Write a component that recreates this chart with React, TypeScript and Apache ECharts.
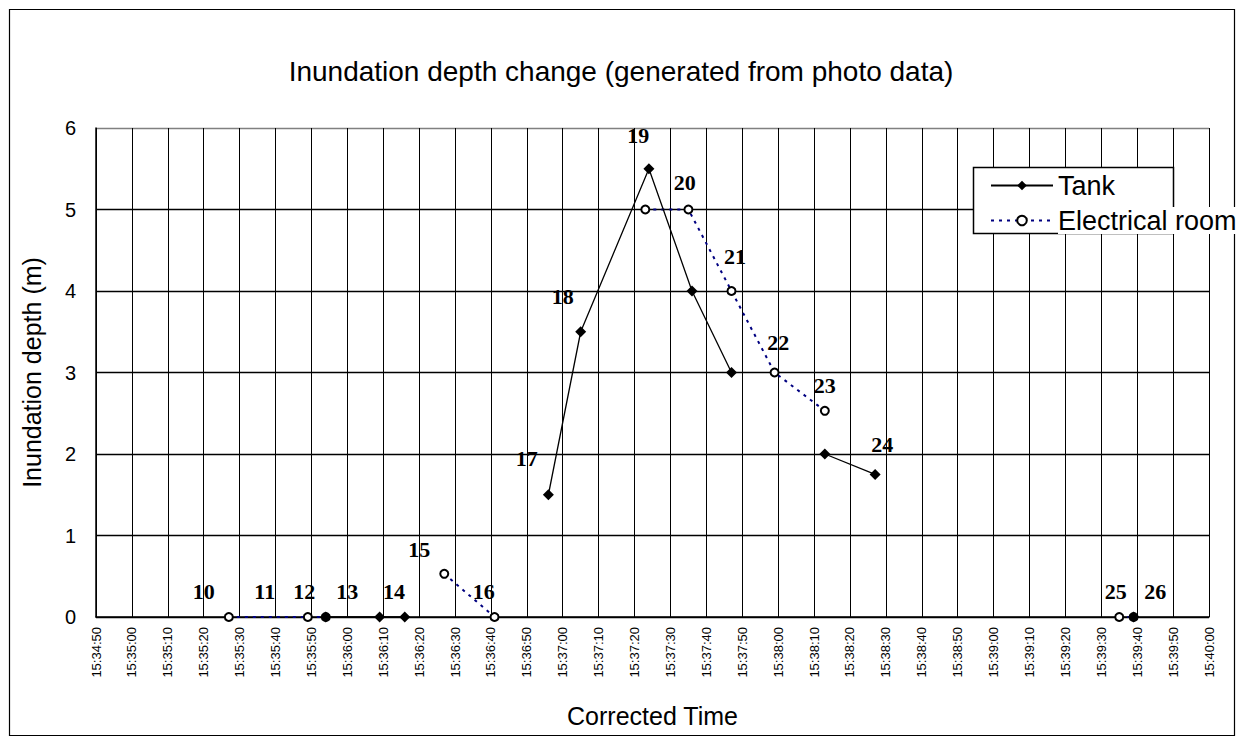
import React, { useEffect, useRef } from "react";
import * as echarts from "echarts";

const AXIS_START = "15:34:50";
const AXIS_END = "15:40:00";

const tankTimes = ["15:35:54", "15:36:09", "15:36:16", "15:36:56", "15:37:05", "15:37:24", "15:37:36", "15:37:47", "15:38:13", "15:38:27", "15:39:39"];
const tankDepths = [0, 0, 0, 1.5, 3.5, 5.5, 4, 3, 2, 1.75, 0];
const tankSegments = [1, 1, 1, 2, 2, 2, 2, 2, 3, 3, 4];

const elecTimes = ["15:35:27", "15:35:49", "15:35:54", "15:36:27", "15:36:41", "15:37:23", "15:37:35", "15:37:47", "15:37:59", "15:38:13", "15:39:35", "15:39:39"];
const elecDepths = [0, 0, 0, 0.53, 0, 5, 5, 4, 3, 2.53, 0, 0];
const elecSegments = [1, 1, 1, 2, 2, 3, 3, 3, 3, 3, 4, 4];

const photoLabels = ["10", "11", "12", "13", "14", "15", "16", "17", "18", "19", "20", "21", "22", "23", "24", "25", "26"];
const photoLabelTimes = ["15:35:20", "15:35:37", "15:35:48", "15:36:00", "15:36:13", "15:36:20", "15:36:38", "15:36:50", "15:37:00", "15:37:21", "15:37:34", "15:37:48", "15:38:00", "15:38:13", "15:38:29", "15:39:34", "15:39:45"];
const photoLabelDepths = [0.31, 0.31, 0.31, 0.31, 0.31, 0.83, 0.31, 1.95, 3.93, 5.91, 5.33, 4.42, 3.37, 2.84, 2.12, 0.31, 0.31];

const yTicks = [0, 1, 2, 3, 4, 5, 6];

function toSec(s: string): number {
  const [h, m, sec] = s.split(":").map(Number);
  return h * 3600 + m * 60 + sec;
}
function fmt(v: number): string {
  const h = Math.floor(v / 3600);
  const m = Math.floor((v % 3600) / 60);
  const s = Math.round(v % 60);
  const p = (n: number) => String(n).padStart(2, "0");
  return `${h}:${p(m)}:${p(s)}`;
}

function segmentSeries(name: string, times: string[], depths: number[], segs: number[], base: any) {
  const ids = Array.from(new Set(segs));
  return ids.map((id) => ({
    ...base,
    name,
    type: "line",
    data: times
      .map((t, i) => ({ t, i }))
      .filter(({ i }) => segs[i] === id)
      .map(({ t, i }) => [toSec(t), depths[i]]),
  }));
}

export default function App() {
  const ref = useRef<HTMLDivElement>(null);
  useEffect(() => {
    document.body.style.margin = "0";
    const chart = echarts.init(ref.current!, null, { renderer: "svg" });
    const sans = "'Liberation Sans', Arial, sans-serif";
    const serif = "'Liberation Serif', 'DejaVu Serif', serif";

    const tankBase = {
      symbol: "diamond",
      symbolSize: 11,
      z: 5,
      itemStyle: { color: "#000" },
      lineStyle: { color: "#000", width: 1.3, type: "solid" },
    };
    const elecBase = {
      symbol: "emptyCircle",
      symbolSize: 8,
      z: 4,
      itemStyle: { color: "#000", borderColor: "#000", borderWidth: 1.3 },
      lineStyle: { color: "#000080", width: 2, type: [3, 5] },
    };

    const option: any = {
      animation: false,
      backgroundColor: "#fff",
      title: {
        text: "Inundation depth change (generated from photo data)",
        left: 616,
        textAlign: "center",
        top: 52,
        textStyle: { fontFamily: sans, fontSize: 28, fontWeight: "normal", color: "#000" },
      },
      grid: { left: 96, top: 128, width: 1113, height: 489, containLabel: false },
      xAxis: {
        type: "value",
        min: toSec(AXIS_START),
        max: toSec(AXIS_END),
        interval: 10,
        name: "Corrected Time",
        nameLocation: "middle",
        nameGap: 86,
        nameTextStyle: { fontFamily: sans, fontSize: 25, color: "#000" },
        axisLine: { lineStyle: { color: "#000", width: 1.5 } },
        axisTick: { show: false },
        axisLabel: {
          rotate: 90,
          formatter: (v: number) => fmt(v),
          fontFamily: sans,
          fontSize: 13,
          color: "#000",
          margin: 10,
        },
        splitLine: { show: true, lineStyle: { color: "#000", width: 1 } },
      },
      yAxis: {
        type: "value",
        min: yTicks[0],
        max: yTicks[yTicks.length - 1],
        interval: 1,
        name: "Inundation depth (m)",
        nameLocation: "middle",
        nameGap: 52,
        nameTextStyle: { fontFamily: sans, fontSize: 25, color: "#000" },
        axisLine: { show: true, lineStyle: { color: "#000", width: 1.5 } },
        axisTick: { show: false },
        axisLabel: { fontFamily: sans, fontSize: 20, color: "#000", margin: 20 },
        splitLine: {
          show: true,
          lineStyle: { color: ["#000", "#000", "#000", "#000", "#000", "#000", "#808080"], width: 1.3 },
        },
      },
      legend: {
        data: [{ name: "Tank" }, { name: "Electrical room" }],
        orient: "vertical",
        left: 990,
        top: 172,
        itemWidth: 62,
        itemHeight: 12,
        itemGap: 8,
        padding: 0,
        z: 6,
        selectedMode: false,
        textStyle: {
          fontFamily: sans,
          fontSize: 27,
          color: "#000",
          backgroundColor: "#fff",
          padding: [0, 0, 0, 0],
        },
      },
      graphic: [
        {
          type: "rect",
          z: 3,
          shape: { x: 973.5, y: 167.5, width: 200, height: 66 },
          style: { fill: "#fff", stroke: "#000", lineWidth: 1.5 },
        },
        {
          type: "rect",
          z: 0,
          silent: true,
          shape: { x: 9.5, y: 9.5, width: 1225, height: 726 },
          style: { fill: "none", stroke: "#000", lineWidth: 1.2 },
        },
      ],
      series: [
        ...segmentSeries("Tank", tankTimes, tankDepths, tankSegments, tankBase),
        ...segmentSeries("Electrical room", elecTimes, elecDepths, elecSegments, elecBase),
        {
          name: "photo labels",
          type: "scatter",
          symbolSize: 0,
          silent: true,
          z: 6,
          itemStyle: { color: "#000", opacity: 1 },
          data: photoLabels.map((txt, i) => ({
            name: txt,
            value: [toSec(photoLabelTimes[i]), photoLabelDepths[i]],
          })),
          label: {
            show: true,
            position: "inside",
            formatter: (p: any) => p.name,
            fontFamily: serif,
            fontWeight: "bold",
            fontSize: 22,
            color: "#000",
            opacity: 1,
            textBorderWidth: 0,
          },
        },
      ],
    };
    chart.setOption(option);
    return () => chart.dispose();
  }, []);
  return (
    <div
      ref={ref}
      style={{ position: "absolute", left: 0, top: 0, width: 1243, height: 738 }}
    />
  );
}
